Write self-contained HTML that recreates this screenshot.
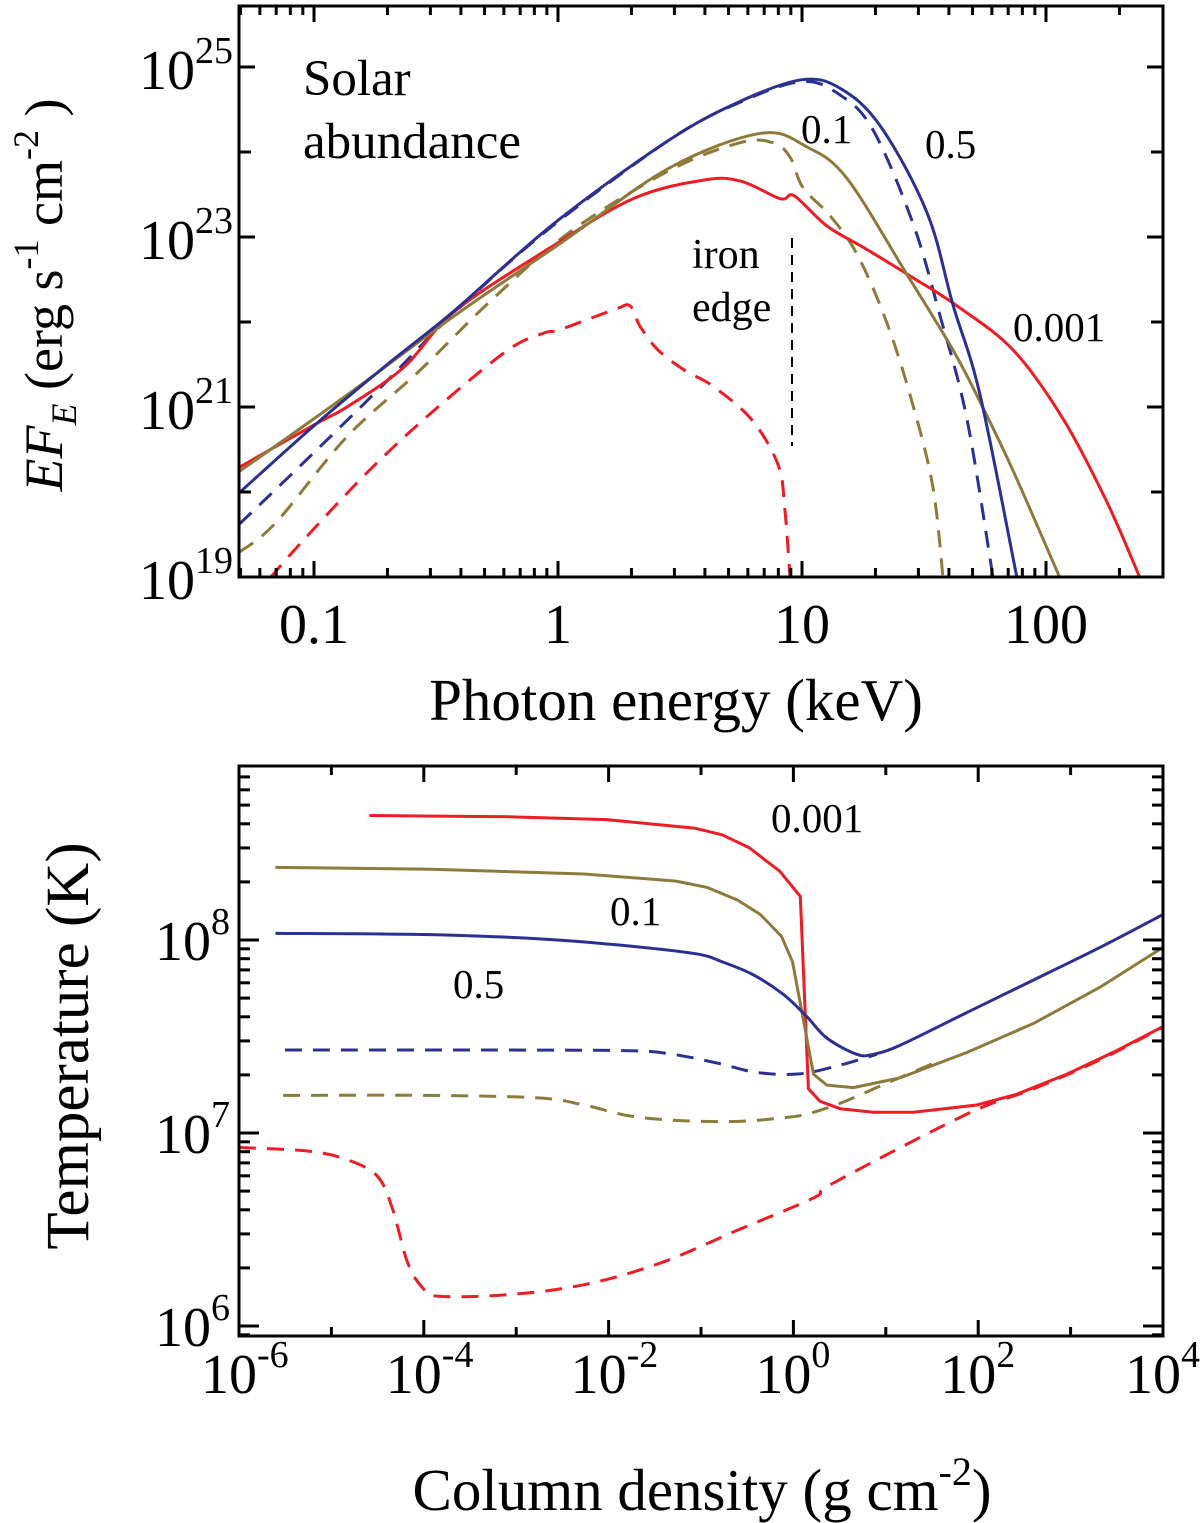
<!DOCTYPE html>
<html><head><meta charset="utf-8"><style>
html,body{margin:0;padding:0;background:#fff;}
svg{display:block;font-family:"Liberation Serif",serif;}
</style></head><body>
<svg id="fig" width="1200" height="1523" viewBox="0 0 1200 1523" xmlns="http://www.w3.org/2000/svg"></svg>
<script>
// ---------- Top panel data (log10 E [keV], log10 EF_E) ----------
const blueSolidE=[-1.307,-1,-0.7,-0.43,-0.016,0.455,0.75,1.0,1.156,1.32,1.512,1.619,1.73,1.881];
const blueSolidF=[19.99,20.78,21.5,22.12,23.16,24.14,24.6,24.85,24.75,24.31,23.29,22.2,21.14,18.99];
const blueDashE=[-1.307,-1.041,-0.717,-0.439,-0.057,0.455,0.75,1.0,1.156,1.291,1.455,1.566,1.676,1.783];
const blueDashF=[19.62,20.35,21.26,22.07,23.05,24.14,24.59,24.83,24.67,24.26,23.16,22.07,20.86,18.99];
const goldSolidE=[-1.307,-0.865,-0.426,0.012,0.455,0.832,1.02,1.184,1.43,1.619,1.73,1.865,2.057];
const goldSolidF=[20.24,21.14,22.07,22.93,23.81,24.22,24.06,23.69,22.56,21.67,21.06,20.25,18.99];
const goldDashE=[-1.307,-1.156,-0.865,-0.57,-0.279,0.045,0.455,0.746,0.881,0.951,1.004,1.115,1.225,1.348,1.455,1.537,1.578];
const goldDashF=[19.29,19.64,20.65,21.42,22.24,23.05,23.78,24.11,24.11,23.94,23.58,23.25,22.8,21.99,21.02,20.05,18.99];
const redSolidE=[-1.307,-1,-0.865,-0.631,-0.426,-0.045,0.307,0.598,0.746,0.893,0.93,0.971,1.102,1.25,1.455,1.635,1.865,2.07,2.25,2.385];
const redSolidF=[20.29,20.79,21.0,21.47,22.12,22.85,23.45,23.67,23.66,23.47,23.45,23.48,23.13,22.88,22.52,22.19,21.67,20.86,19.88,18.99];
const redDashE=[-1.18,-1.041,-0.775,-0.5,-0.205,-0.057,0.008,0.234,0.295,0.336,0.41,0.525,0.627,0.791,0.902,0.93,0.951];
const redDashF=[18.99,19.44,20.25,20.98,21.67,21.87,21.91,22.15,22.19,21.95,21.67,21.42,21.26,20.86,20.32,19.79,18.99];
const ironEdgeE=0.959;
const topXTickLabels=["0.1","1","10","100"];
const topYTickExps=[19,21,23,25];

// ---------- Bottom panel data (log10 column density, log10 T) ----------
const redSolidN=[-4.589,-3.095,-2.017,-1.062,-0.772,-0.481,-0.149,0.075,0.162,0.289,0.505,0.866,1.3,1.986,2.419,2.96,3.5,3.99];
const redSolidT=[8.645,8.639,8.624,8.579,8.545,8.479,8.357,8.226,7.229,7.164,7.126,7.107,7.107,7.145,7.201,7.305,7.427,7.549];
const goldSolidN=[-5.606,-3.925,-2.266,-1.27,-0.938,-0.606,-0.357,-0.129,-0.01,0.217,0.361,0.65,1.155,1.877,2.6,3.32,4.0];
const goldSolidT=[8.376,8.367,8.342,8.305,8.273,8.207,8.132,8.019,7.887,7.305,7.248,7.235,7.286,7.417,7.568,7.756,7.962];
const blueSolidN=[-5.606,-3.925,-2.68,-1.85,-1.062,-0.772,-0.44,-0.108,0.141,0.361,0.686,0.866,1.155,1.877,2.6,3.32,4.0];
const blueSolidT=[8.034,8.028,8.004,7.972,7.929,7.887,7.821,7.718,7.605,7.492,7.408,7.408,7.455,7.624,7.793,7.962,8.132];
const blueDashN=[-5.502,-3.925,-1.85,-1.311,-0.813,-0.398,0.065,0.505,0.903];
const blueDashT=[7.43,7.43,7.427,7.408,7.361,7.314,7.306,7.352,7.408];
const goldDashN=[-5.523,-3.925,-2.763,-2.266,-1.768,-1.228,-0.606,-0.108,0.144,0.505,1.011,1.516];
const goldDashT=[7.195,7.195,7.182,7.145,7.088,7.064,7.06,7.079,7.098,7.154,7.258,7.361];
const redDashN=[-6,-5.253,-4.838,-4.506,-4.34,-4.174,-4.008,-3.842,-3.095,-2.266,-1.436,-0.606,0.224,0.433,1.877,2.6,3.32,4.0];
const redDashT=[6.925,6.906,6.863,6.778,6.609,6.327,6.195,6.154,6.162,6.214,6.327,6.496,6.665,6.741,7.098,7.229,7.38,7.549];
const botXTickExps=[-6,-4,-2,0,2,4];
const botYTickExps=[6,7,8];

const NS="http://www.w3.org/2000/svg";
const svg=document.getElementById('fig');
function mk(tag,attrs,parent){const e=document.createElementNS(NS,tag);for(const k in attrs)e.setAttribute(k,attrs[k]);(parent||svg).appendChild(e);return e;}

const RED="#ee1c25",GOLD="#8e7a3a",BLUE="#2b3191";

const T={x0:239,x1:1163,y0:6,y1:577};
const txs=v=>314+(v+1)*244;
const tys=v=>67+(25-v)*85;
const B={x0:239,x1:1163,y0:766,y1:1336};
const bxs=v=>239+(v+6)*92.4;
const bys=v=>1326-(v-6)*193;

function pathD(P,smooth){
  if(!smooth) return P.map((p,i)=>(i?'L':'M')+p[0].toFixed(1)+','+p[1].toFixed(1)).join(' ');
  let d='M'+P[0][0].toFixed(1)+','+P[0][1].toFixed(1);
  for(let i=0;i<P.length-1;i++){
    const p0=P[i-1]||P[i],p1=P[i],p2=P[i+1],p3=P[i+2]||P[i+1];
    const c1=[p1[0]+(p2[0]-p0[0])/6,p1[1]+(p2[1]-p0[1])/6];
    const c2=[p2[0]-(p3[0]-p1[0])/6,p2[1]-(p3[1]-p1[1])/6];
    d+=' C'+c1[0].toFixed(1)+','+c1[1].toFixed(1)+' '+c2[0].toFixed(1)+','+c2[1].toFixed(1)+' '+p2[0].toFixed(1)+','+p2[1].toFixed(1);
  }
  return d;
}
function series(xsArr,ysArr,xs,ys,color,dashed,name,clip,smooth){
  const P=xsArr.map((v,i)=>[xs(v),ys(ysArr[i])]);
  const p=mk('path',{d:pathD(P,smooth),fill:'none',stroke:color,'stroke-width':3,'stroke-linejoin':'round','clip-path':'url(#'+clip+')'});
  if(dashed)p.setAttribute('stroke-dasharray','17,11');
  
  
}

const defs=mk('defs',{});
const c1=mk('clipPath',{id:'clipTop'},defs);mk('rect',{x:T.x0,y:T.y0,width:T.x1-T.x0,height:T.y1-T.y0},c1);
const c2=mk('clipPath',{id:'clipBot'},defs);mk('rect',{x:B.x0,y:B.y0,width:B.x1-B.x0,height:B.y1-B.y0},c2);

series(redDashE,redDashF,txs,tys,RED,true,'top-0.001-dashed-line','clipTop',true);
series(goldDashE,goldDashF,txs,tys,GOLD,true,'top-0.1-dashed-line','clipTop',true);
series(blueDashE,blueDashF,txs,tys,BLUE,true,'top-0.5-dashed-line','clipTop',true);
series(redSolidE,redSolidF,txs,tys,RED,false,'top-0.001-solid-line','clipTop',true);
series(goldSolidE,goldSolidF,txs,tys,GOLD,false,'top-0.1-solid-line','clipTop',true);
series(blueSolidE,blueSolidF,txs,tys,BLUE,false,'top-0.5-solid-line','clipTop',true);
const iron=mk('line',{x1:txs(ironEdgeE),x2:txs(ironEdgeE),y1:238,y2:446,stroke:'#000','stroke-width':2,'stroke-dasharray':'10,7'});



series(redDashN,redDashT,bxs,bys,RED,true,'bottom-0.001-dashed-line','clipBot',true);
series(goldDashN,goldDashT,bxs,bys,GOLD,true,'bottom-0.1-dashed-line','clipBot',true);
series(blueDashN,blueDashT,bxs,bys,BLUE,true,'bottom-0.5-dashed-line','clipBot',true);
series(redSolidN,redSolidT,bxs,bys,RED,false,'bottom-0.001-solid-line','clipBot',false);
series(goldSolidN,goldSolidT,bxs,bys,GOLD,false,'bottom-0.1-solid-line','clipBot',false);
series(blueSolidN,blueSolidT,bxs,bys,BLUE,false,'bottom-0.5-solid-line','clipBot',true);

function tick(x1,y1,x2,y2){mk('line',{x1:x1,y1:y1,x2:x2,y2:y2,stroke:'#000','stroke-width':3});}
function frame(R,name){const r=mk('rect',{x:R.x0,y:R.y0,width:R.x1-R.x0,height:R.y1-R.y0,fill:'none',stroke:'#000','stroke-width':3});
  }
frame(T,'top-plot-frame');frame(B,'bottom-plot-frame');

for(let d=-2;d<=2;d++){for(let m=1;m<=9;m++){const v=d+Math.log10(m);const x=txs(v);if(x<T.x0+1||x>T.x1-1)continue;
  const L=m===1?16:9;tick(x,T.y1,x,T.y1-L);tick(x,T.y0,x,T.y0+L);}}
for(let e=19;e<=25;e++){const y=tys(e);const L=(e%2)?16:12;tick(T.x0,y,T.x0+L,y);tick(T.x1,y,T.x1-L,y);}
for(let e=-6;e<=4;e++){const x=bxs(e);if(e===-6||e===4)continue;const L=(e%2===0)?16:9;tick(x,B.y1,x,B.y1-L);tick(x,B.y0,x,B.y0+L);}
for(let d=5;d<=8;d++){for(let m=1;m<=9;m++){const v=d+Math.log10(m);const y=bys(v);if(y<B.y0+1||y>B.y1-1)continue;
  const L=m===1?20:11;tick(B.x0,y,B.x0+L,y);tick(B.x1,y,B.x1-L,y);}}

function txt(str,attrs,name){const t=mk('text',attrs);t.textContent=str;return t;}
function powLabel(x,y,exp,anchor,name,size,supSize,dy){
  const t=mk('text',{x:x,y:y,'text-anchor':anchor,'font-size':size});
  
  const a=mk('tspan',{},t);a.textContent='10';
  const b=mk('tspan',{'font-size':supSize,dy:dy},t);b.textContent=String(exp);
}
topXTickLabels.forEach((s,i)=>{txt(s,{x:txs(i-1),y:643,'text-anchor':'middle','font-size':56},'x-tick-label-'+s);});
topYTickExps.forEach(e=>{powLabel(233,tys(e)+22,e,'end','y-tick-label-1e'+e,56,38,-26);});
botXTickExps.forEach(e=>{const t=mk('text',{x:bxs(e)-38,y:1393,'text-anchor':'start','font-size':56});
  
  const a=mk('tspan',{},t);a.textContent='10';const b=mk('tspan',{'font-size':38,dy:-26},t);b.textContent=String(e);});
botYTickExps.forEach(e=>{powLabel(230,bys(e)+20,e,'end','y-tick-label-1e'+e,56,38,-26);});

txt('Photon energy (keV)',{x:676,y:720,'text-anchor':'middle','font-size':59},'top-x-axis-title');
(function(){const t=mk('text',{transform:'translate(62,295) rotate(-90)','text-anchor':'middle','font-size':54});
  
  const parts=[['EF','italic',0,54],['E','italic',14,36],[' (erg s','normal',-14,54],['-1','normal',-24,36],[' cm','normal',24,54],['-2','normal',-24,36],[' )','normal',24,54]];
  parts.forEach(p=>{const s=mk('tspan',{'font-style':p[1],dy:p[2],'font-size':p[3]},t);s.textContent=p[0];});})();
(function(){const t=mk('text',{x:702,y:1510,'text-anchor':'middle','font-size':59});
  
  const a=mk('tspan',{},t);a.textContent='Column density (g cm';const b=mk('tspan',{'font-size':40,dy:-25},t);b.textContent='-2';
  const c=mk('tspan',{dy:25},t);c.textContent=')';})();
txt('Temperature (K)',{transform:'translate(88,1046) rotate(-90)','text-anchor':'middle','font-size':61},'bottom-y-axis-title');

txt('Solar',{x:303,y:95,'font-size':51},'solar-abundance-label');
txt('abundance',{x:303,y:158,'font-size':51},'solar-abundance-label-2');
txt('iron',{x:692,y:268,'font-size':42},'iron-edge-label');
txt('edge',{x:692,y:321,'font-size':42},'iron-edge-label-2');
txt('0.1',{x:801,y:143,'font-size':41},'top-label-0.1');
txt('0.5',{x:925,y:158,'font-size':41},'top-label-0.5');
txt('0.001',{x:1013,y:341,'font-size':41},'top-label-0.001');
txt('0.001',{x:771,y:832,'font-size':41},'bottom-label-0.001');
txt('0.1',{x:610,y:925,'font-size':41},'bottom-label-0.1');
txt('0.5',{x:453,y:998,'font-size':41},'bottom-label-0.5');
</script>
</body></html>
